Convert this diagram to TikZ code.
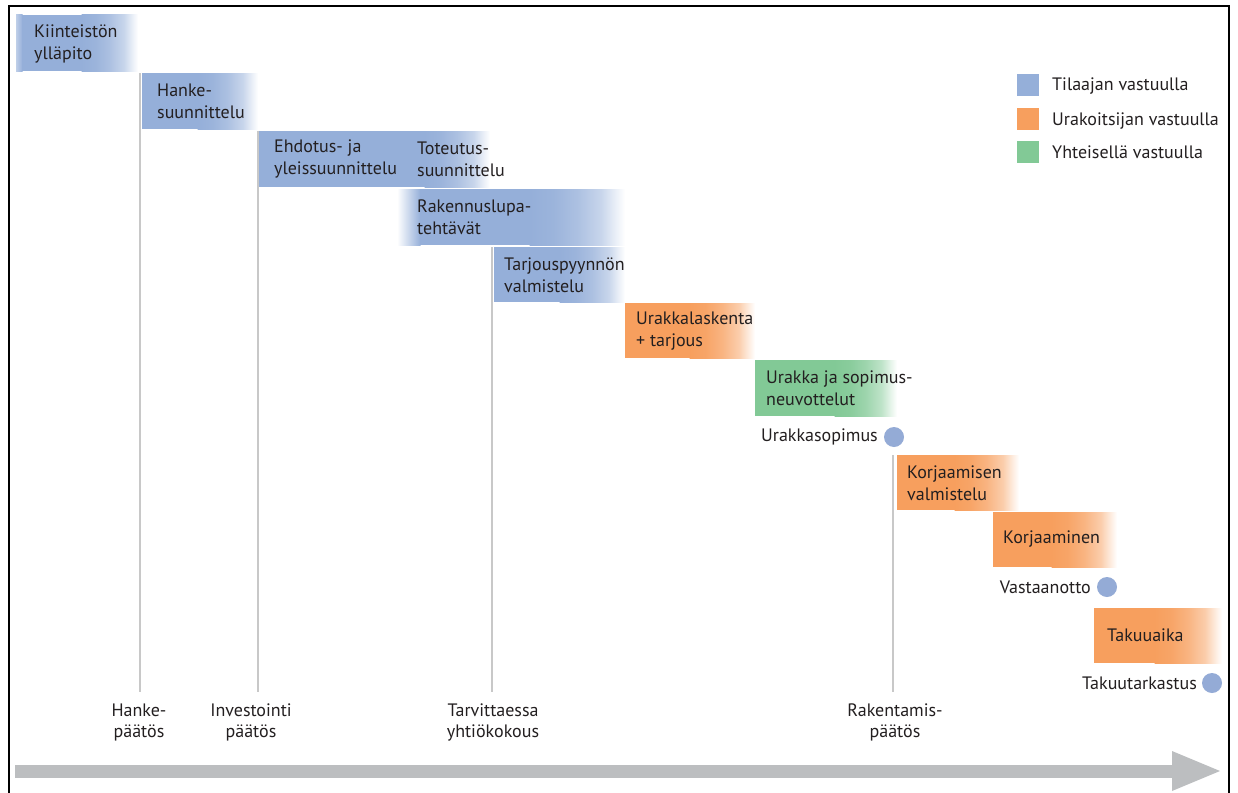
\documentclass[tikz,border=0pt]{standalone}
\usepackage{fontspec}
\setmainfont{PT Sans}
\definecolor{tblue}{HTML}{95AFD9}
\definecolor{torange}{HTML}{F79F5E}
\definecolor{tgreen}{HTML}{82C996}
\definecolor{dotblue}{HTML}{94ABD6}
\definecolor{txt}{HTML}{231F20}
\definecolor{vline}{HTML}{C8C8C8}
\definecolor{agray}{HTML}{BCBEC0}
\newcommand\makefade[1]{%
  \colorlet{#1a}{#1!94!white}%
  \colorlet{#1b}{#1!78!white}%
  \colorlet{#1c}{#1!52!white}%
  \colorlet{#1d}{#1!20!white}%
  \pgfdeclarehorizontalshading{fade#1}{100bp}{color(0bp)=(#1); color(25bp)=(#1); color(37.5bp)=(#1a); color(50bp)=(#1b); color(62.5bp)=(#1c); color(70bp)=(#1d); color(75bp)=(white); color(100bp)=(white)}%
}
\makefade{tblue}
\makefade{torange}
\makefade{tgreen}
\newcommand\phasebar[6]{%
  \fill[#6] (#1,#3) rectangle (#5,#4);
  \shade[shading=fade#6] (#5-0.5,#3) rectangle (#2,#4);}
\tikzset{
  lbl/.style={anchor=west, align=left, inner sep=0pt, text=txt, font=\fontsize{18}{22}\selectfont},
  elbl/.style={anchor=east, align=left, inner sep=0pt, text=txt, font=\fontsize{18}{22}\selectfont},
  clbl/.style={anchor=center, align=center, inner sep=0pt, text=txt, font=\fontsize{18}{21}\selectfont},
  dot/.style={circle, fill=dotblue, minimum size=20pt, inner sep=0pt},
  vl/.style={draw=vline, line width=1.5pt},
  legbox/.style={minimum size=22pt, inner sep=0pt, anchor=north west}
}
\begin{document}
\begin{tikzpicture}[x=1pt,y=-1pt]
\useasboundingbox (0,0) rectangle (1238,792);
\fill[white] (0,0) rectangle (1238,792);
% frame
\draw[line width=2pt, black] (9,793) -- (9,6) -- (1229,6) -- (1229,793);
% vertical lines
\coordinate (v1t) at (140,73);  \coordinate (v1b) at (140,692);
\coordinate (v2t) at (258,131); \coordinate (v2b) at (258,692);
\coordinate (v3t) at (492,247); \coordinate (v3b) at (492,692);
\coordinate (v4t) at (893,455); \coordinate (v4b) at (893,692);
\draw[vl] (v1t) -- (v1b);
\draw[vl] (v2t) -- (v2b);
\draw[vl] (v3t) -- (v3b);
\draw[vl] (v4t) -- (v4b);
% bars
\shade[left color=tblue!60!white, right color=tblue] (16,15) rectangle (22.5,71);
\phasebar{22}{138}{15}{71}{82}{tblue}
\phasebar{142}{258}{73}{129}{198}{tblue}
\phasebar{259}{490}{131}{187}{425}{tblue}
\shade[left color=white, right color=tblue] (397,189) rectangle (420.5,245);
\phasebar{420}{625}{189}{245}{530}{tblue}
\phasebar{494}{625}{247}{302}{560}{tblue}
\phasebar{625}{755}{303}{358}{690}{torange}
\phasebar{755}{897}{360}{416}{835}{tgreen}
\phasebar{897}{1019}{455}{510}{955}{torange}
\phasebar{993}{1117}{512}{567}{1052}{torange}
\phasebar{1094}{1222}{608}{663}{1155}{torange}
% bar labels
\node[lbl] (kiint) at (34,44) {Kiinteistön\\ylläpito};
\node[lbl] (hanke) at (157,101) {Hanke-\\suunnittelu};
\node[lbl] (ehdotus) at (274,159) {Ehdotus- ja\\yleissuunnittelu};
\node[lbl] (toteutus) at (417,159) {Toteutus-\\suunnittelu};
\node[lbl] (rakennus) at (417,217) {Rakennuslupa-\\tehtävät};
\node[lbl] (tarjous) at (504,275) {Tarjouspyynnön\\valmistelu};
\node[lbl] (laskenta) at (636,331) {Urakkalaskenta\\+ tarjous};
\node[lbl] (neuvot) at (766,388) {Urakka ja sopimus-\\neuvottelut};
\node[lbl] (korjval) at (907,483) {Korjaamisen\\valmistelu};
\node[lbl] (korj) at (1003,539) {Korjaaminen};
\node[lbl] (takuu) at (1107,635) {Takuuaika};
% milestones
\node[dot] (d1) at (894,437) {};
\node[elbl] (sopimus) at (878,437) {Urakkasopimus};
\node[dot] (d2) at (1107,587) {};
\node[elbl] (vastaan) at (1091,587) {Vastaanotto};
\node[dot] (d3) at (1212,683) {};
\node[elbl] (tarkastus) at (1197,683) {Takuutarkastus};
% decisions
\node[clbl] (p1) at (139,722) {Hanke-\\päätös};
\node[clbl] (p2) at (251,722) {Investointi\\päätös};
\node[clbl] (p3) at (493,722) {Tarvittaessa\\yhtiökokous};
\node[clbl] (p4) at (895,722) {Rakentamis-\\päätös};
% legend
\node[legbox, fill=tblue] (l1) at (1017,74) {};
\node[legbox, fill=torange] (l2) at (1017,108) {};
\node[legbox, fill=tgreen] (l3) at (1017,141) {};
\node[lbl] (lt1) at (1052,86) {Tilaajan vastuulla};
\node[lbl] (lt2) at (1052,121) {Urakoitsijan vastuulla};
\node[lbl] (lt3) at (1052,152) {Yhteisellä vastuulla};
% time arrow
\coordinate (as) at (15,771);
\coordinate (ae) at (1174,771);
\draw[agray, line width=13pt] (as) -- (ae);
\fill[agray] (1172,751) -- (1220,771) -- (1172,791) -- cycle;
\end{tikzpicture}
\end{document}
